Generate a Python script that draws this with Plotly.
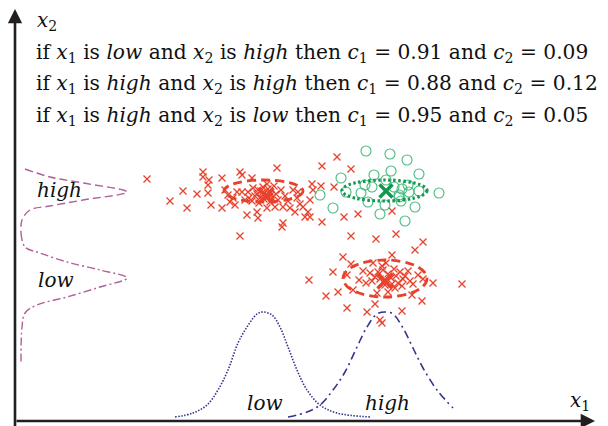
import plotly.graph_objects as go

# ---------------- data (x1, x2 units; origin at the axes corner) ----------------
red1_x1 = [132,188,188,194,193,207,168,182,193,155,172,196,207,225,262,307,225,227,237,297,
           306,227,233,210,213,218,220,278,283,282,295,268,275,280,288,293,290,295,232,242,
           243,252,260,268,267,307,243,247,251,255,249,245,257,253,240,261,248,255,263,237,
           270,273,244,259,266,234,238,252,230,215,222,285,319,298,322,336,343,329,377,
           249,253,246,256,242]
red1_x2 = [242,249,244,241,236,243,230,227,228,220,213,216,213,185,253,255,249,246,243,237,
           235,229,229,231,226,223,216,231,229,223,221,214,213,209,214,209,204,204,206,209,
           203,213,214,198,194,199,231,228,226,229,222,223,223,232,225,227,234,219,221,220,
           225,220,218,235,231,223,233,237,221,219,229,217,234,231,264,252,207,204,210,
           227,224,230,226,227]

red2_x1 = [336,361,381,408,400,328,336,358,377,371,318,294,332,348,344,351,355,360,379,393,
           403,408,418,447,323,311,338,362,373,387,397,407,360,332,352,387,365,367,363,368,
           373,376,381,385,388,383,377,365,370,357,390,395,380,367,398]
red2_x2 = [185,182,187,179,171,164,157,158,166,158,149,141,146,150,141,138,148,144,152,150,
           146,142,138,137,129,125,131,128,129,135,126,120,117,113,109,110,101,98,149,151,
           147,143,145,149,142,138,137,142,136,140,145,140,133,155,137]

green_x1 = [351,375,392,326,359,376,404,305,331,346,350,357,371,379,387,393,394,404,424,353,
            370,384,386,400,318,365,390,384]
green_x2 = [270,267,261,243,246,250,247,226,229,228,236,234,241,234,232,236,229,230,228,219,
            216,224,220,214,213,207,200,226]

# class means (big crosses)
mean_red_x1 = [251, 370]
mean_red_x2 = [225, 140]
mean_green_x1 = [371]
mean_green_x2 = [230]

# covariance ellipses: [x1 min, x1 max, x2 min, x2 max]
ell_red1 = [209, 288, 219, 241]
ell_green = [327, 412, 220, 241]
ell_red2 = [328, 412, 124, 161]

# membership functions along x1 (bottom)
low1_x1 = [160,178,192,203,213,223,232,242,248,257,265,273,282,292,305,322,355]
low1_mu = [4,8,16,31,51,78,94,107,109,106,94,74,51,31,16,8,4]
high1_x1 = [273,292,305,318,330,342,352,362,370,378,388,398,408,422,438]
high1_mu = [4,9,16,31,49,74,94,107,109,107,93,73,53,31,13]

# membership functions along x2 (left)
high2_x2 = [252,244,238,229,221,215,211,201,188]
high2_mu = [10,35,68,112,68,35,15,7,6]
low2_x2 = [188,174,168,159,151,143,134,124,116,108,94,58]
low2_mu = [6,10,25,52,85,112,85,52,22,10,7,6]

rules = [
    "if <i>x</i><sub>1</sub> is <i>low</i> and <i>x</i><sub>2</sub> is <i>high</i> then <i>c</i><sub>1</sub> = 0.91 and <i>c</i><sub>2</sub> = 0.09",
    "if <i>x</i><sub>1</sub> is <i>high</i> and <i>x</i><sub>2</sub> is <i>high</i> then <i>c</i><sub>1</sub> = 0.88 and <i>c</i><sub>2</sub> = 0.12",
    "if <i>x</i><sub>1</sub> is <i>high</i> and <i>x</i><sub>2</sub> is <i>low</i> then <i>c</i><sub>1</sub> = 0.95 and <i>c</i><sub>2</sub> = 0.05",
]
rule_x2 = [368, 337, 305]

# ---------------- styling ----------------
RED = "#e8412c"
GREEN_PT = "#45bb80"
GREEN_EL = "#12994f"
NAVY = "#34348f"
MAUVE = "#b0609c"
AXIS = "#231f20"
SERIF = "DejaVu Serif"

fig = go.Figure()

fig.add_trace(go.Scatter(x=low1_x1, y=low1_mu, mode="lines", line_shape="spline",
                         line=dict(color=NAVY, width=1.6, dash="1.5px,1.5px")))
fig.add_trace(go.Scatter(x=high1_x1, y=high1_mu, mode="lines", line_shape="spline",
                         line=dict(color=NAVY, width=1.6, dash="8px,4px,2px,4px")))
fig.add_trace(go.Scatter(x=high2_mu, y=high2_x2, mode="lines", line_shape="spline",
                         line=dict(color=MAUVE, width=1.4, dash="8px,4px")))
fig.add_trace(go.Scatter(x=low2_mu, y=low2_x2, mode="lines", line_shape="spline",
                         line=dict(color=MAUVE, width=1.4, dash="8px,3px,2px,3px")))

fig.add_trace(go.Scatter(x=red1_x1 + red2_x1, y=red1_x2 + red2_x2, mode="markers",
                         marker=dict(symbol="x-thin-open", size=7, color=RED,
                                     line=dict(color=RED, width=1.3))))
fig.add_trace(go.Scatter(x=green_x1, y=green_x2, mode="markers",
                         marker=dict(symbol="circle-open", size=10, color=GREEN_PT,
                                     line=dict(color=GREEN_PT, width=1.1))))
fig.add_trace(go.Scatter(x=mean_red_x1, y=mean_red_x2, mode="markers",
                         marker=dict(symbol="x-thin-open", size=15, color=RED,
                                     line=dict(color=RED, width=3.5))))
fig.add_trace(go.Scatter(x=mean_green_x1, y=mean_green_x2, mode="markers",
                         marker=dict(symbol="x-thin-open", size=13, color=GREEN_EL,
                                     line=dict(color=GREEN_EL, width=3.5))))

shapes = []
for e, col, dash, w in [(ell_red1, RED, "9px,5px", 2.8), (ell_green, GREEN_EL, "2.5px,2.5px", 3.2),
                        (ell_red2, RED, "9px,5px", 2.8)]:
    shapes.append(dict(type="circle", xref="x", yref="y", x0=e[0], x1=e[1], y0=e[2], y1=e[3],
                       line=dict(color=col, width=w, dash=dash)))

ann = []
# axes with arrows
ann.append(dict(x=0, y=412, ax=0, ay=-8, xref="x", yref="y", axref="x", ayref="y", text="",
                showarrow=True, arrowhead=2, arrowsize=1.1, arrowwidth=2.6, arrowcolor=AXIS))
ann.append(dict(x=580, y=0, ax=0, ay=0, xref="x", yref="y", axref="x", ayref="y", text="",
                showarrow=True, arrowhead=2, arrowsize=1.1, arrowwidth=2.6, arrowcolor=AXIS))

for t, yy in zip(rules, rule_x2):
    ann.append(dict(x=19, y=yy, xref="x", yref="y", text=t, showarrow=False, xanchor="left",
                    yanchor="middle", font=dict(family=SERIF, size=20.2, color="#111")))

labels = [
    ("<i>x</i><sub>2</sub>", 20, 400, "left"),
    ("<i>x</i><sub>1</sub>", 565, 20, "center"),
    ("<i>high</i>", 20, 231, "left"),
    ("<i>low</i>", 21, 141, "left"),
    ("<i>low</i>", 249.5, 18, "center"),
    ("<i>high</i>", 372, 18, "center"),
]
for t, xx, yy, anc in labels:
    ann.append(dict(x=xx, y=yy, xref="x", yref="y", text=t, showarrow=False, xanchor=anc,
                    yanchor="middle", font=dict(family=SERIF, size=20, color="#111")))

# the page shows the figure 8 px in from the top-left corner
fig.update_layout(
    width=600, height=418, margin=dict(l=0, r=0, t=0, b=0),
    paper_bgcolor="white", plot_bgcolor="white", showlegend=False,
    xaxis=dict(range=[-7, 593], visible=False, fixedrange=True),
    yaxis=dict(range=[-5, 413], visible=False, fixedrange=True),
    shapes=shapes, annotations=ann,
)

fig.write_html("out.html")
